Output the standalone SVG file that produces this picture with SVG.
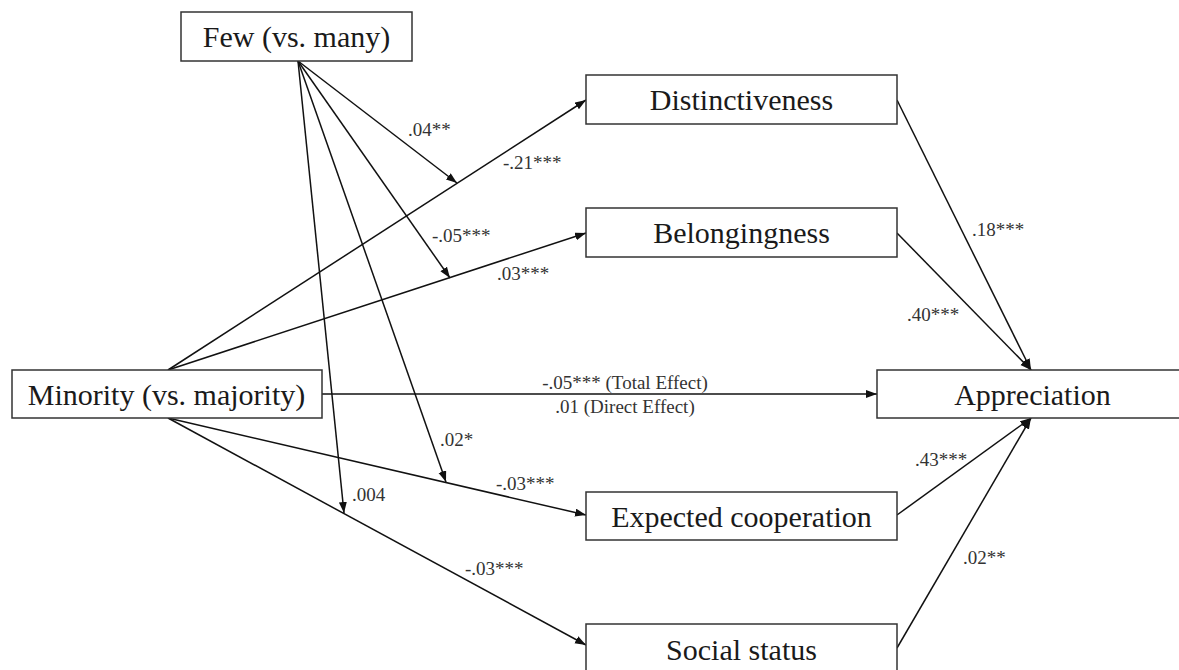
<svg xmlns="http://www.w3.org/2000/svg" width="1179" height="670" viewBox="0 0 1179 670">
  <style>
    .box { fill: #ffffff; stroke: #333333; stroke-width: 1.5; }
    .nt { font-family: "Liberation Serif", "Times New Roman", serif; font-size: 30px; fill: #1a1a1a; text-anchor: middle; }
    .lb { font-family: "Liberation Serif", "Times New Roman", serif; font-size: 19px; fill: #333333; }
    .cn { stroke: #111111; stroke-width: 1.5; fill: none; marker-end: url(#ah); }
  </style>
  <defs>
    <marker id="ah" markerUnits="userSpaceOnUse" markerWidth="12" markerHeight="9" refX="11" refY="4" orient="auto">
      <path d="M0,0 L11,4 L0,8 z" fill="#111111"/>
    </marker>
  </defs>
  <rect width="1179" height="670" fill="#ffffff"/>

  <g id="connectors">
    <line class="cn" x1="298" y1="61" x2="457" y2="183"/>
    <line class="cn" x1="298" y1="61" x2="450" y2="278"/>
    <line class="cn" x1="298" y1="61" x2="446" y2="482"/>
    <line class="cn" x1="298" y1="61" x2="344" y2="513"/>
    <line class="cn" x1="168" y1="370" x2="586" y2="100"/>
    <line class="cn" x1="168" y1="370" x2="586" y2="233"/>
    <line class="cn" x1="322" y1="394" x2="877" y2="394"/>
    <line class="cn" x1="168" y1="418" x2="586" y2="515"/>
    <line class="cn" x1="168" y1="418" x2="586" y2="645"/>
    <line class="cn" x1="897" y1="100" x2="1031" y2="370"/>
    <line class="cn" x1="897" y1="233" x2="1031" y2="370"/>
    <line class="cn" x1="897" y1="515" x2="1031" y2="418"/>
    <line class="cn" x1="897" y1="648" x2="1031" y2="418"/>
    <g id="labels">
      <text class="lb" x="408" y="136">.04**</text>
      <text class="lb" x="503" y="169">-.21***</text>
      <text class="lb" x="432" y="242">-.05***</text>
      <text class="lb" x="497" y="280">.03***</text>
      <text class="lb" x="625" y="389" text-anchor="middle">-.05*** (Total Effect)</text>
      <text class="lb" x="625" y="413" text-anchor="middle">.01 (Direct Effect)</text>
      <text class="lb" x="440" y="446">.02*</text>
      <text class="lb" x="496" y="490">-.03***</text>
      <text class="lb" x="352" y="501">.004</text>
      <text class="lb" x="465" y="575">-.03***</text>
      <text class="lb" x="972" y="236">.18***</text>
      <text class="lb" x="907" y="321">.40***</text>
      <text class="lb" x="915" y="466">.43***</text>
      <text class="lb" x="963" y="564">.02**</text>
    </g>
  </g>

  <g id="few">
    <rect class="box" x="181" y="12" width="231" height="49"/>
    <text class="nt" x="296.5" y="47">Few (vs. many)</text>
  </g>
  <g id="distinctiveness">
    <rect class="box" x="586" y="75" width="311" height="49"/>
    <text class="nt" x="741.5" y="110">Distinctiveness</text>
  </g>
  <g id="belongingness">
    <rect class="box" x="586" y="208" width="311" height="49"/>
    <text class="nt" x="741.5" y="243">Belongingness</text>
  </g>
  <g id="minority">
    <rect class="box" x="12" y="370" width="310" height="48"/>
    <text class="nt" x="166.5" y="405">Minority (vs. majority)</text>
  </g>
  <g id="appreciation">
    <rect class="box" x="877" y="370" width="310" height="48"/>
    <text class="nt" x="1032.5" y="405">Appreciation</text>
  </g>
  <g id="expected-cooperation">
    <rect class="box" x="586" y="492" width="311" height="48"/>
    <text class="nt" x="741.5" y="527">Expected cooperation</text>
  </g>
  <g id="social-status">
    <rect class="box" x="586" y="624" width="311" height="60"/>
    <text class="nt" x="741.5" y="660">Social status</text>
  </g>
</svg>
